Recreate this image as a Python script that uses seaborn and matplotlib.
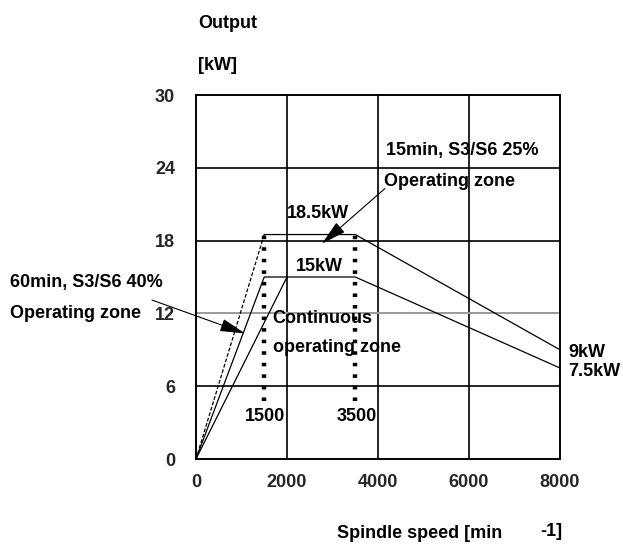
import matplotlib
matplotlib.use("Agg")
import matplotlib.pyplot as plt
from matplotlib import font_manager
import seaborn as sns
import pandas as pd

# ---------------- data ----------------
x_ticks = [0, 2000, 4000, 6000, 8000]
y_ticks = [0, 6, 12, 18, 24, 30]

# 15min S3/S6 25% curve
rise25_speed = [0, 1500]
rise25_power = [0, 18.5]
top25_speed = [1500, 3500, 8000]
top25_power = [18.5, 18.5, 9]

# 60min S3/S6 40% curve
s40_speed = [0, 1500, 3500, 8000]
s40_power = [0, 15, 15, 7.5]

# continuous curve rise
cont_speed = [0, 2000]
cont_power = [0, 15]

# dotted markers at base / max speed
mark_speeds = [1500, 3500]
mark_low, mark_high = 4.8, 18.8

# ---------------- fonts ----------------
sns.set_theme(style="white")
names = {f.name for f in font_manager.fontManager.ttflist}
if "Liberation Sans Narrow" in names:
    fam = ["Liberation Sans Narrow", "DejaVu Sans"]
    fs = 15
else:
    fam = ["Liberation Sans", "DejaVu Sans"]
    fs = 13
plt.rcParams["font.family"] = fam
plt.rcParams["font.weight"] = "bold"
W = "bold"

fig = plt.figure(figsize=(6.23, 5.5), dpi=100)
ax = fig.add_axes([196 / 623, 1 - 459 / 550, 364 / 623, 364 / 550])

def seg(xs, ys, **kw):
    df = pd.DataFrame({"x": xs, "y": ys})
    sns.lineplot(data=df, x="x", y="y", sort=False, estimator=None, ax=ax,
                 color="black", **kw)

seg(rise25_speed, rise25_power, lw=0.9, linestyle=(0, (3, 1.5)))
seg(top25_speed, top25_power, lw=0.9)
seg(s40_speed, s40_power, lw=0.9)
seg(cont_speed, cont_power, lw=0.9)
for s in mark_speeds:
    seg([s, s], [mark_low, mark_high], lw=3.2, linestyle=(0, (0.8, 1.8)))

ax.set_xlim(0, 8000)
ax.set_ylim(0, 30)
ax.set_xticks(x_ticks)
ax.set_yticks(y_ticks)
ax.set_xticklabels([str(v) for v in x_ticks], fontsize=fs, fontweight=W)
ax.set_yticklabels([str(v) for v in y_ticks], fontsize=fs, fontweight=W)
ax.tick_params(axis="x", length=0, pad=11)
ax.tick_params(axis="y", length=0, pad=15)
ax.set_xlabel("")
ax.set_ylabel("")

for v in [2000, 4000, 6000]:
    ax.axvline(v, color="black", lw=1.2, zorder=0)
for v in [6, 18, 24]:
    ax.axhline(v, color="black", lw=1.2, zorder=0)
ax.axhline(12, color="#9a9a9a", lw=1.4, zorder=0)
for sp in ax.spines.values():
    sp.set_visible(True)
    sp.set_color("black")
    sp.set_linewidth(1.4)

# ---------------- texts ----------------
tk = dict(fontsize=fs, color="black", clip_on=False, fontweight=W)
ax.text(4176, 25.4, "15min, S3/S6 25%", ha="left", va="center", **tk)
ax.text(4132, 22.85, "Operating zone", ha="left", va="center", **tk)
ax.text(2681, 20.2, "18.5kW", ha="center", va="center", **tk)
ax.text(2714, 15.9, "15kW", ha="center", va="center", **tk)
ax.text(1670, 11.6, "Continuous", ha="left", va="center", **tk)
ax.text(1690, 9.2, "operating zone", ha="left", va="center", **tk)
ax.text(1516, 3.5, "1500", ha="center", va="center", **tk)
ax.text(3540, 3.5, "3500", ha="center", va="center", **tk)
ax.text(8176, 8.8, "9kW", ha="left", va="center", **tk)
ax.text(8176, 7.25, "7.5kW", ha="left", va="center", **tk)

ap = dict(arrowstyle="-|>,head_length=1.3,head_width=0.33", color="black",
          lw=0.8, shrinkA=0, shrinkB=0)
ax.annotate("", xy=(2769, 17.75), xytext=(4154, 22.3), arrowprops=ap,
            annotation_clip=False)
ax.annotate("", xy=(1077, 10.35), xytext=(-967, 13.1), arrowprops=ap,
            annotation_clip=False)

def ftext(px, py, s, **kw):
    fig.text(px / 623, 1 - py / 550, s, fontsize=fs, color="black",
             va="center", fontweight=W, **kw)

ftext(198, 24, "Output")
ftext(198, 66, "[kW]")
ftext(10, 283, "60min, S3/S6 40%")
ftext(10, 313, "Operating zone")
ftext(337, 533, "Spindle speed [min")
ftext(540, 531, "-1]")

fig.savefig("out.png", dpi=100)
